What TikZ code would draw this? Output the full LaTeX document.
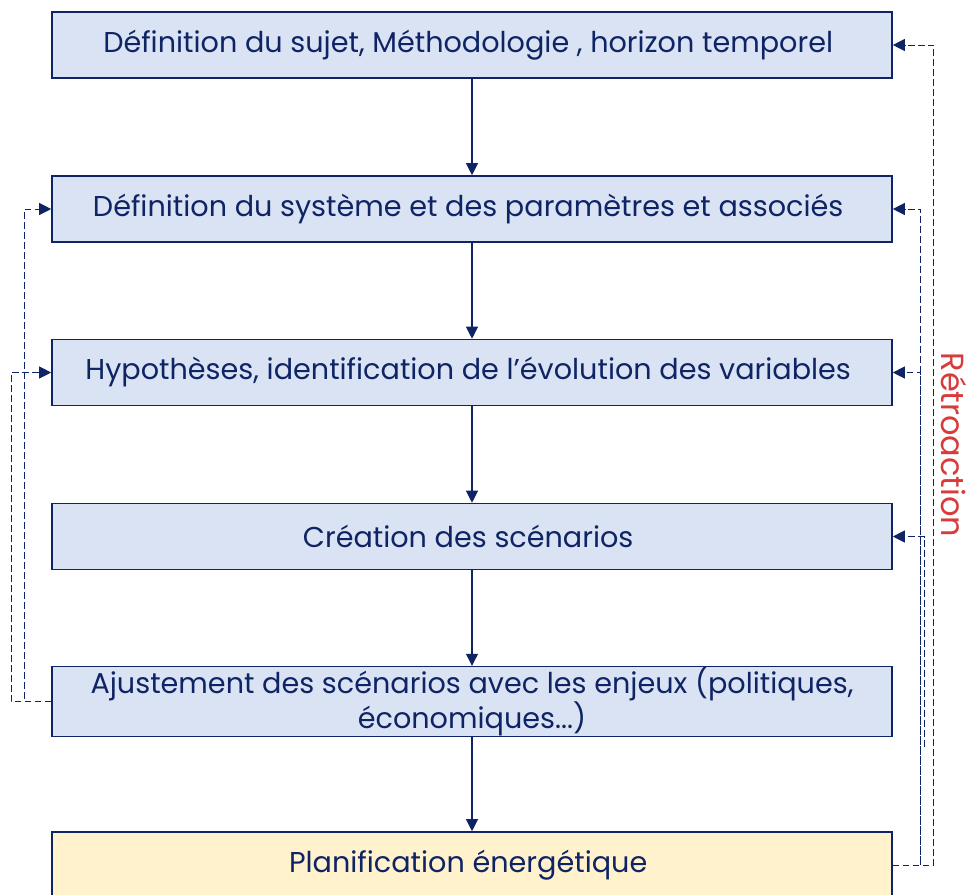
\documentclass[tikz,border=0pt]{standalone}
\usepackage{fontspec}
\setmainfont{Poppins}
\usepackage{tikz}
\usetikzlibrary{positioning, calc, arrows.meta}
\definecolor{mynavy}{HTML}{0F2464}
\definecolor{myblue}{HTML}{DAE3F3}
\definecolor{mycream}{HTML}{FFF2CC}
\definecolor{myred}{HTML}{D93A3A}
\tikzset{
	defaultnode/.style={
			rectangle,
			draw=mynavy,
			line width=1.2pt,
			fill=myblue,
			text=mynavy,
			minimum width=630pt,
			minimum height=49.5pt,
			inner sep=0pt,
			align=center,
			font=\fontsize{21.5}{24.5}\selectfont
		},
	finalnode/.style={
			defaultnode,
			fill=mycream
		},
	flowarrow/.style={
			draw=mynavy,
			line width=0.8pt,
			-{Triangle[length=9pt,width=9pt]}
		},
	feedback/.style={
			draw=mynavy,
			line width=0.75pt,
			dash pattern=on 5pt off 2.5pt,
			-{Triangle[length=9pt,width=9pt]}
		}
}

\begin{document}
\begin{tikzpicture}[x=0.75pt, y=-0.75pt]
\useasboundingbox (0,0) rectangle (970,894);
\node[defaultnode] (n1) at (472,45)  { Définition du sujet, Méthodologie , horizon temporel };
\node[defaultnode] (n2) at (472,209)  { Définition du système et des paramètres et associés };
\node[defaultnode] (n3) at (472,372.5)  { Hypothèses, identification de l’évolution des variables };
\node[defaultnode] (n4) at (472,536.5)  { Création des scénarios };
\node[defaultnode] (n5) at (472,701.5)  { Ajustement des scénarios avec les enjeux (politiques,\\ économiques...) };
\node[finalnode] (n6) at (472,865)  { Planification énergétique };
\coordinate (c4) at (924,747);

\draw[flowarrow] (n1) -- (n2);
\draw[flowarrow] (n2) -- (n3);
\draw[flowarrow] (n3) -- (n4);
\draw[flowarrow] (n4) -- (n5);
\draw[flowarrow] (n5) -- (n6);

\draw[feedback] (n6.east) -- ++(41,0) |- (n1.east);
\draw[feedback] (n6.east) -- ++(28,0) |- (n2.east);
\draw[feedback] (n6.east) ++(28,0) |- (n3.east);
\draw[feedback] (c4) |- (n4.east);

\draw[feedback] (n5.west) -- ++(-27,0) |- (n2.west);
\draw[feedback] (n5.west) -- ++(-40,0) |- (n3.west);

\node[text=myred, rotate=-90, font=\fontsize{24}{26}\selectfont] (retro) at (954,445) {Rétroaction};
\end{tikzpicture}
\end{document}
